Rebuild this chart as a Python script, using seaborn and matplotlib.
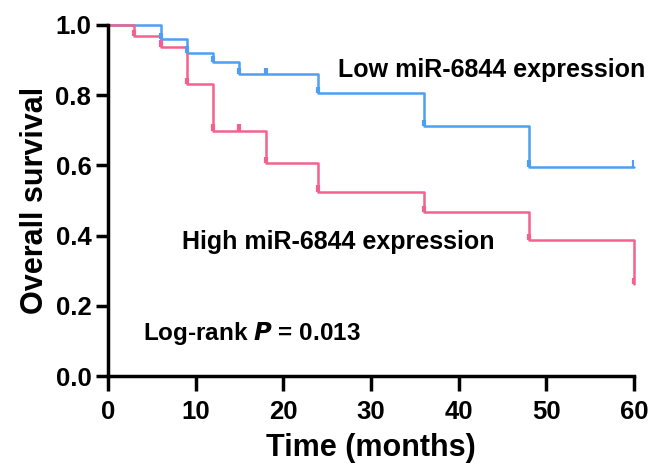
import matplotlib
matplotlib.use("Agg")
import matplotlib.pyplot as plt
import seaborn as sb
import pandas as pd

# Kaplan-Meier step values
times = [0, 3, 6, 9, 12, 15, 18, 24, 36, 48, 60]
low_surv = [1.0, 1.0, 0.959, 0.921, 0.894, 0.860, 0.860, 0.805, 0.712, 0.596, 0.596]
high_surv = [1.0, 0.969, 0.938, 0.832, 0.699, 0.699, 0.606, 0.525, 0.466, 0.387, 0.262]

# censor ticks at every step time after 0
censor_times = times[1:]

low_color = "#4C9FF2"
high_color = "#F4618E"

sb.set_style("ticks")
plt.rcParams["font.family"] = ["Liberation Sans", "DejaVu Sans"]
plt.rcParams["font.weight"] = "bold"
plt.rcParams["text.color"] = "black"
plt.rcParams["axes.labelcolor"] = "black"
plt.rcParams["xtick.color"] = "black"
plt.rcParams["ytick.color"] = "black"
plt.rcParams["axes.edgecolor"] = "black"

fig = plt.figure(figsize=(6.52, 4.66), dpi=100)
ax = fig.add_axes([0.1656, 0.1931, 0.8068, 0.7533])

df = pd.DataFrame({
    "time": times * 2,
    "surv": low_surv + high_surv,
    "group": ["Low"] * len(times) + ["High"] * len(times),
})

sb.lineplot(data=df, x="time", y="surv", hue="group",
            palette={"Low": low_color, "High": high_color},
            drawstyle="steps-post", linewidth=1.8, legend=False,
            estimator=None, ax=ax)

# upward censor ticks
tick_len = 0.018
for surv, col in [(low_surv, low_color), (high_surv, high_color)]:
    vals = surv[1:]
    ax.vlines(censor_times, vals, [v + tick_len for v in vals],
              colors=col, linewidth=3, zorder=3)

ax.set_xlim(0, 60)
ax.set_ylim(0, 1.0)
ax.set_xticks(range(0, 61, 10))
ax.set_yticks([0.0, 0.2, 0.4, 0.6, 0.8, 1.0])
ax.set_yticklabels(["0.0", "0.2", "0.4", "0.6", "0.8", "1.0"])
ax.set_xlabel("Time (months)", fontsize=22, fontweight="bold", labelpad=6)
ax.set_ylabel("Overall survival", fontsize=22, fontweight="bold", labelpad=4)
ax.tick_params(axis="both", labelsize=18.5, width=2.5, direction="out")
ax.tick_params(axis="x", length=10.5, pad=7)
ax.tick_params(axis="y", length=9, pad=3)
for lab in ax.get_xticklabels() + ax.get_yticklabels():
    lab.set_fontweight("bold")

sb.despine(ax=ax)
for side in ["left", "bottom"]:
    ax.spines[side].set_linewidth(2.5)
for line in ax.lines:
    line.set_clip_on(False)

ax.text(26.2, 0.872, "Low miR-6844 expression", fontsize=18,
        fontweight="bold", va="center", ha="left")
ax.text(8.5, 0.382, "High miR-6844 expression", fontsize=18,
        fontweight="bold", va="center", ha="left")
ax.text(4.0, 0.122, r"Log-rank $\bf{\it{P}}$ = 0.013", fontsize=17.5,
        fontweight="bold", va="center", ha="left")

fig.savefig("out.png", dpi=100)
